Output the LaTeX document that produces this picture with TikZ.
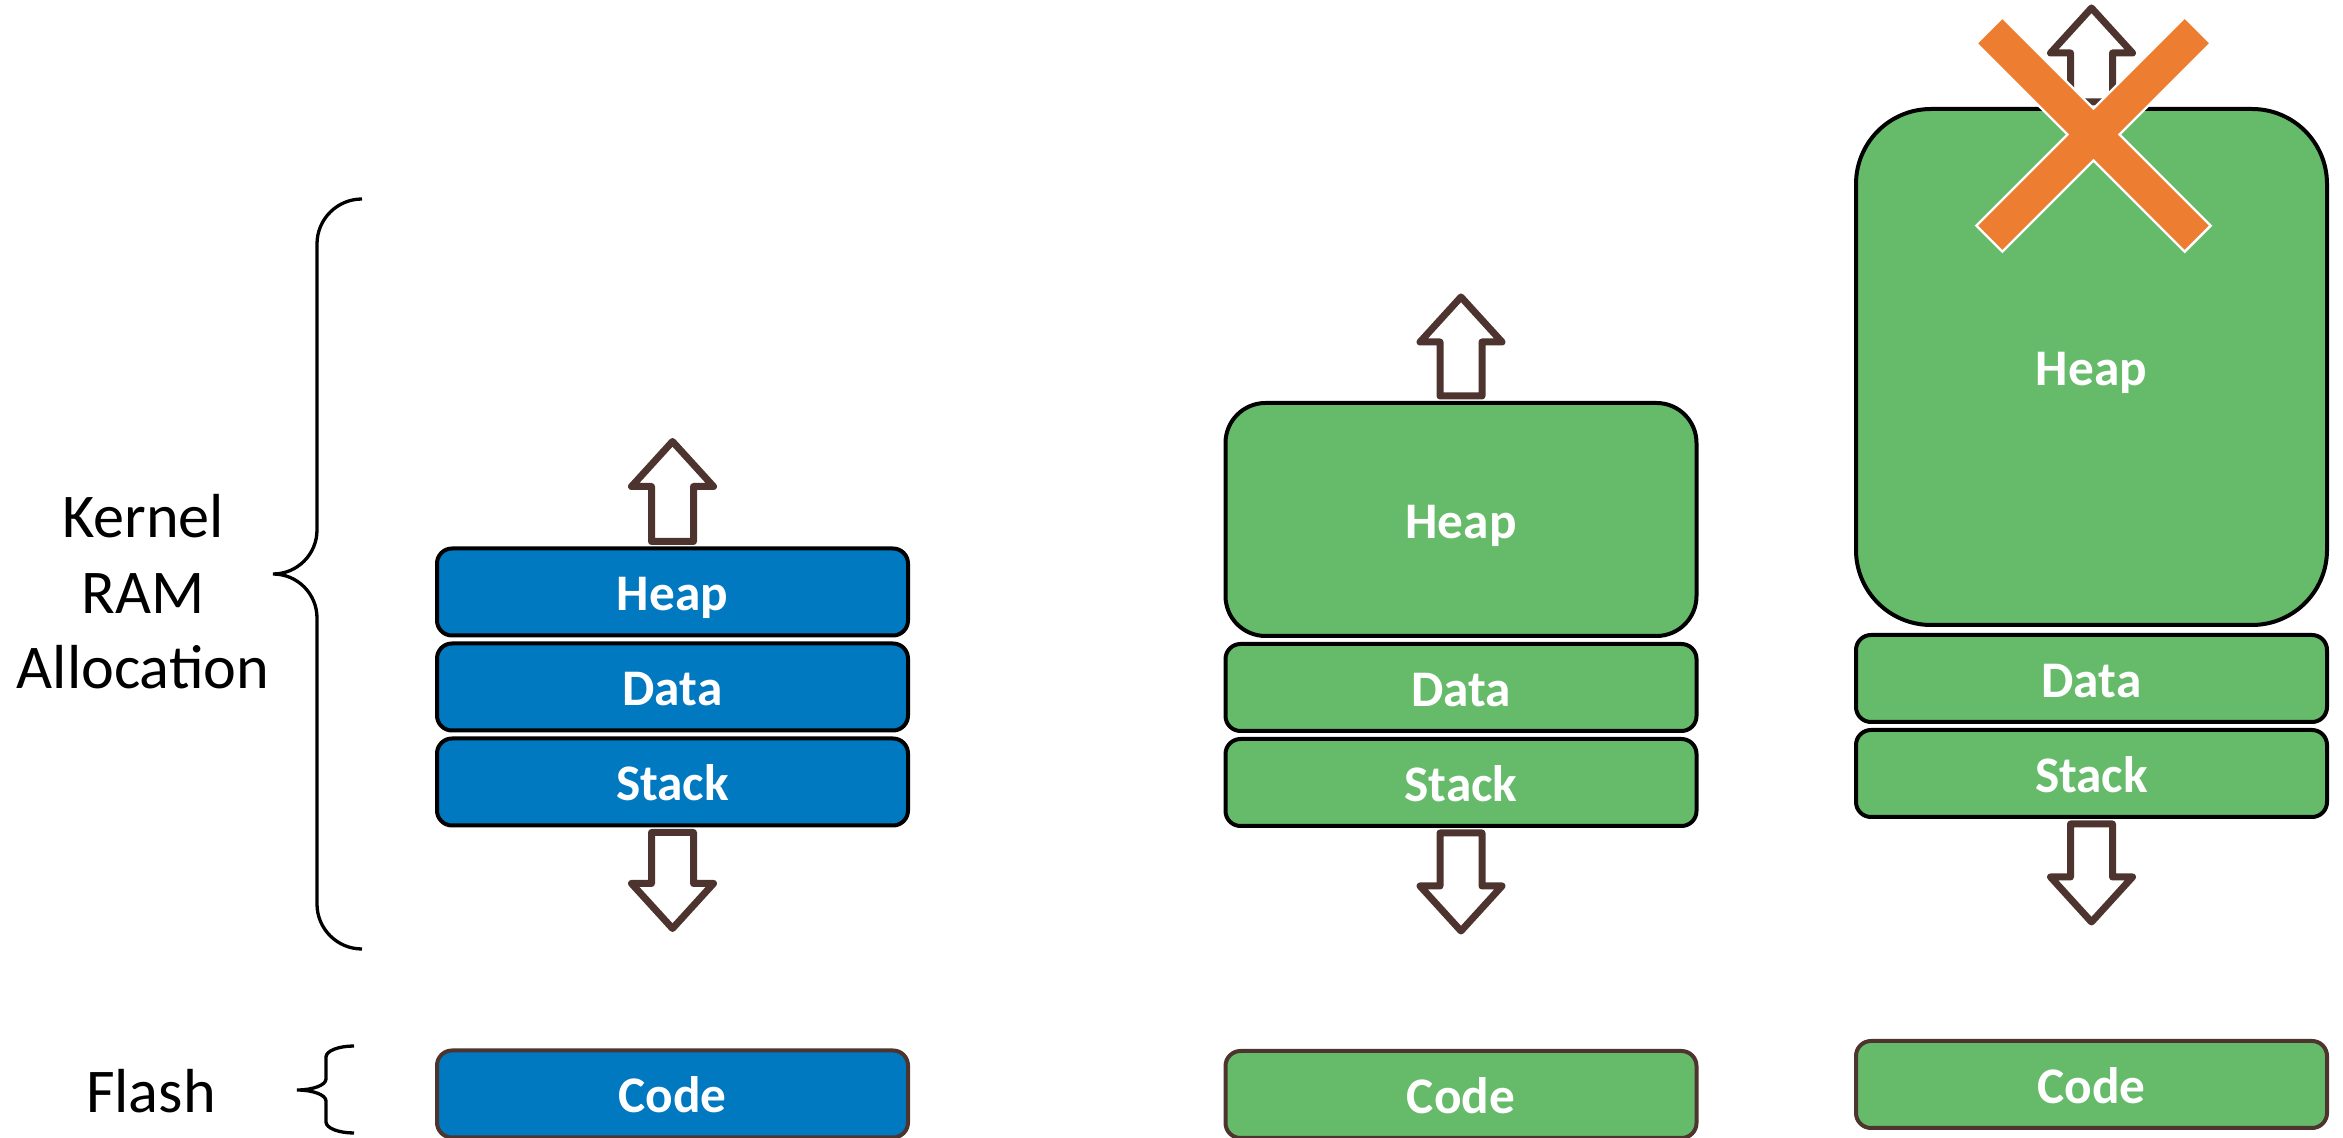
\documentclass[tikz,border=0pt]{standalone}
\usepackage{fontspec}
\setmainfont{Carlito}
\usepackage{tikz}
\definecolor{memblue}{RGB}{0,121,193}
\definecolor{memgreen}{RGB}{102,187,106}
\definecolor{codeline}{RGB}{78,52,46}
\definecolor{crossorange}{RGB}{237,125,49}
\newcommand{\boxfont}{\fontsize{14.6pt}{17pt}\selectfont\bfseries}
\newcommand{\labelfont}{\fontsize{17.7pt}{21.5pt}\selectfont}
\tikzstyle{ramblue} = [rectangle, rounded corners=0.15cm, 
minimum width=4.71cm, 
minimum height=0.87cm, 
inner sep=0pt, 
text height=0.38cm, text depth=0cm, 
draw=black, line width=0.04cm, 
fill=memblue, text=white, font=\boxfont]
\tikzstyle{ramgreen} = [ramblue, fill=memgreen]
\tikzstyle{codeblue} = [ramblue, draw=codeline]
\tikzstyle{codegreen} = [ramgreen, draw=codeline]
\tikzstyle{growth} = [draw=codeline, fill=white, line width=0.07cm, line join=round]
\tikzstyle{brace} = [draw=black, line width=0.033cm]
% hollow block arrow on a box edge: anchor, direction (1 up, -1 down), length
\newcommand{\growarrow}[3]{%
  \begin{scope}[shift={(#1)}, yscale=#2]
    \draw [growth] (-0.21,0.05) -- (-0.21,#3-0.45) -- (-0.41,#3-0.45) -- (0,#3)
      -- (0.41,#3-0.45) -- (0.21,#3-0.45) -- (0.21,0.05) -- cycle;
  \end{scope}}

\begin{document}
\begin{tikzpicture} [node distance=0.95cm]
    \useasboundingbox (0,0) rectangle (23.43,-11.38);

    \node (ramlabel) [align=center, font=\labelfont] at (1.43,-5.92) {Kernel\\RAM\\Allocation};
    \node (flashlabel) [font=\labelfont, anchor=base] at (1.51,-11.13) {Flash};

    \node (dataA) [ramblue] at (6.725,-6.87) {Data};
    \node (heapA) [ramblue, above of=dataA] {Heap};
    \node (stackA) [ramblue, below of=dataA] {Stack};
    \node (codeA) [codeblue, below of=stackA, node distance=3.12cm] {Code};

    \node (dataB) [ramgreen, right of=dataA, xshift=6.935cm, yshift=-0.005cm] {Data};
    \node (heapB) [ramgreen, above of=dataB, node distance=1.68cm, minimum height=2.33cm, rounded corners=0.40cm] {Heap};
    \node (stackB) [ramgreen, below of=dataB] {Stack};
    \node (codeB) [codegreen, below of=stackB, node distance=3.12cm] {Code};

    \node (dataC) [ramgreen, right of=dataB, xshift=5.355cm, yshift=0.09cm] {Data};
    \node (heapC) [ramgreen, above of=dataC, node distance=3.115cm, minimum height=5.16cm, rounded corners=0.75cm] {Heap};
    \node (stackC) [ramgreen, below of=dataC] {Stack};
    \node (codeC) [codegreen, below of=stackC, node distance=3.11cm] {Code};

    \growarrow{heapA.north}{1}{1.05}
    \growarrow{stackA.south}{-1}{1.01}
    \growarrow{heapB.north}{1}{1.04}
    \growarrow{stackB.south}{-1}{1.03}
    \growarrow{heapC.north}{1}{0.99}
    \growarrow{stackC.south}{-1}{1.03}

    \begin{scope}[shift={(20.935,-1.345)}, rotate=45]
        \draw [white, line width=0.05cm] (-1.46,-0.17) rectangle (1.46,0.17) (-0.17,-1.46) rectangle (0.17,1.46);
        \fill [crossorange] (-1.46,-0.17) rectangle (1.46,0.17) (-0.17,-1.46) rectangle (0.17,1.46);
    \end{scope}

    \draw [brace] (3.62,-1.99) arc[start angle=90, end angle=180, radius=0.45] -- (3.17,-5.30)
        arc[start angle=0, end angle=-90, radius=0.44] arc[start angle=90, end angle=0, radius=0.44]
        -- (3.17,-9.04) arc[start angle=180, end angle=270, radius=0.45];
    \draw [brace] (3.54,-10.46) arc[start angle=90, end angle=180, x radius=0.28, y radius=0.11] -- (3.26,-10.79)
        arc[start angle=0, end angle=-90, x radius=0.29, y radius=0.11] arc[start angle=90, end angle=0, x radius=0.29, y radius=0.11]
        -- (3.26,-11.22) arc[start angle=180, end angle=270, x radius=0.28, y radius=0.11];

\end{tikzpicture}
\end{document}
